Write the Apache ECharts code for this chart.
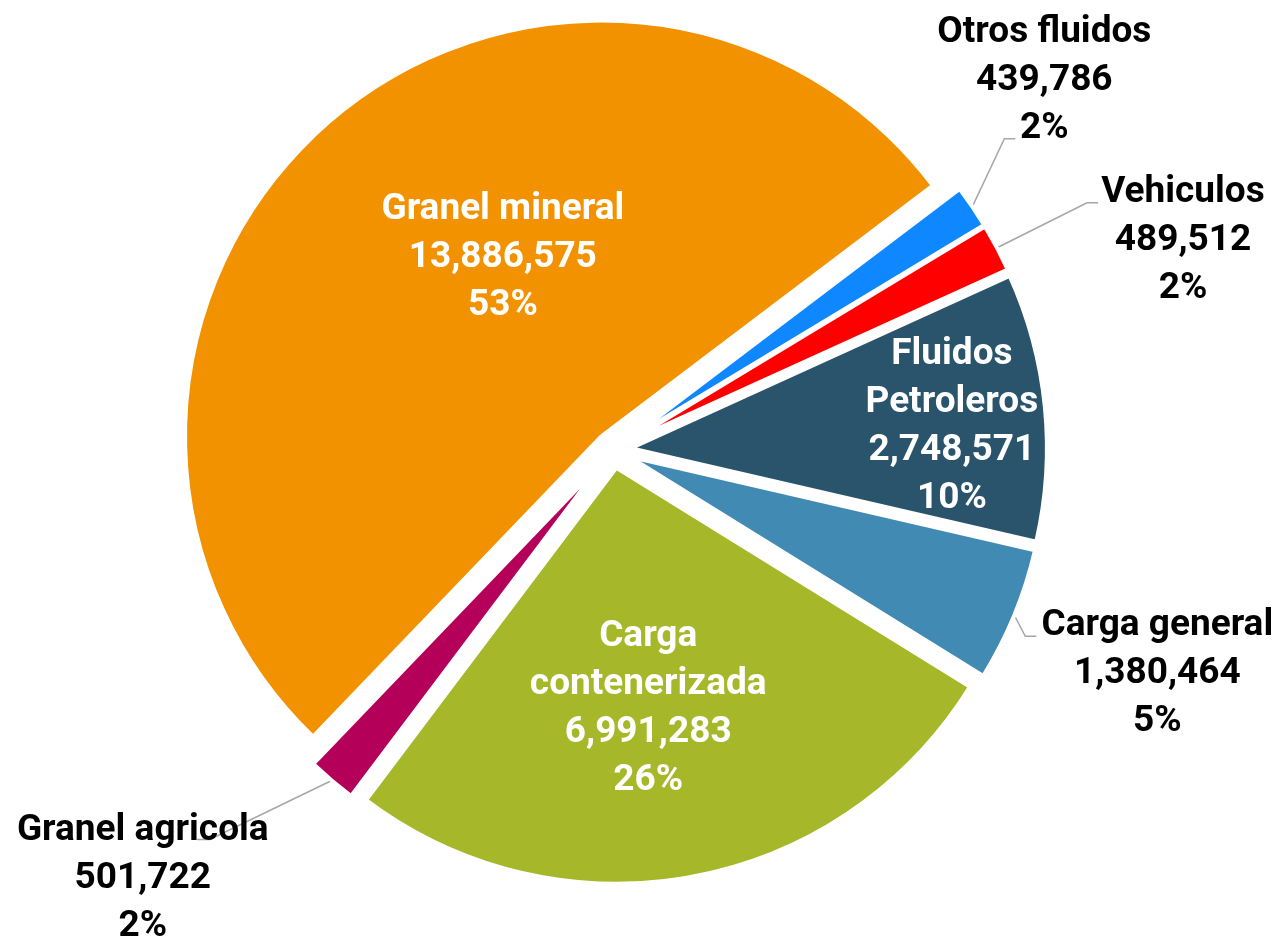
<!DOCTYPE html>
<html>
<head>
<meta charset="utf-8">
<script src="https://cdn.jsdelivr.net/npm/echarts@6/dist/echarts.min.js"></script>
<style>
  html, body { margin: 0; padding: 0; background: #fff; }
  #chart { width: 1281px; height: 943px; }
</style>
</head>
<body>
<div id="chart"></div>
<script>
// slices in clockwise order, starting from the gap above "Otros fluidos"
const CATEGORIES = ["Otros fluidos", "Vehiculos", "Fluidos Petroleros", "Carga general",
                    "Carga contenerizada", "Granel agricola", "Granel mineral"];
const VALUES = [439786, 489512, 2748571, 1380464, 6991283, 501722, 13886575];
// label text as wrapped in the original
const LABEL_TEXT = ["Otros fluidos", "Vehiculos", "Fluidos\nPetroleros", "Carga general",
                    "Carga\ncontenerizada", "Granel agricola", "Granel mineral"];

const COLORS = ["#0f87ff", "#ff0000", "#29546c", "#418ab3", "#a6b82a", "#b5005a", "#f39200"];
const INSIDE = [false, false, true, false, true, false, true];
// how far each label is moved from where the pie puts it (done with padding so the
// selected-slice shift still applies)
const LABEL_SHIFT = [[67, -126], [181, -7], [111, 0], [138, 59], [-7, 34], [-184, 98], [42, -21]];
// leader line bends, relative to the leader start on the arc
const LINE_BEND = [
  [[32, -68], [43, -68]],
  [[90, -45], [101, -45]],
  null,
  [[11, 21], [22, 21]],
  null,
  [[-122, 59], [-135, 59]],
  null,
];

const FONT = "Roboto, 'Liberation Sans', sans-serif";
const LINE_H = 48;

const chart = echarts.init(document.getElementById("chart"));

function labelText(p) {
  return LABEL_TEXT[p.dataIndex] + "\n" + p.value.toLocaleString("en-US") + "\n" + Math.round(p.percent) + "%";
}

// text is top-aligned on the anchor, so the top padding moves the block centre by sy
function shiftPadding(i) {
  const [sx, sy] = LABEL_SHIFT[i];
  const h = (LABEL_TEXT[i].split("\n").length + 2) * LINE_H;
  return [sy - h / 2, Math.max(0, -2 * sx), 0, Math.max(0, 2 * sx)];
}

function placeLabel(p) {
  const i = p.dataIndex;
  if (INSIDE[i]) return { align: "center", verticalAlign: "top" };
  const p0 = p.labelLinePoints[0];
  const b = LINE_BEND[i];
  return {
    align: "center",
    verticalAlign: "top",
    labelLinePoints: [
      [p0[0], p0[1]],
      [p0[0] + b[0][0], p0[1] + b[0][1]],
      [p0[0] + b[1][0], p0[1] + b[1][1]],
    ],
  };
}

chart.setOption({
  animation: false,
  backgroundColor: "#fff",
  series: [{
    type: "pie",
    center: [613, 450],
    radius: 416,
    startAngle: 37.1,
    clockwise: true,
    selectedMode: "multiple",
    selectedOffset: 18,
    avoidLabelOverlap: false,
    silent: true,
    emphasis: { disabled: true },
    itemStyle: { borderColor: "#fff", borderWidth: 4 },
    label: {
      fontFamily: FONT,
      fontSize: 37,
      fontWeight: "bold",
      lineHeight: LINE_H,
      formatter: labelText,
    },
    labelLine: { lineStyle: { color: "#a6a6a6", width: 1.5 } },
    labelLayout: placeLabel,
    data: CATEGORIES.map((name, i) => ({
      name,
      value: VALUES[i],
      selected: true,
      itemStyle: { color: COLORS[i] },
      label: {
        position: INSIDE[i] ? "inside" : "outside",
        color: INSIDE[i] ? "#fff" : "#000",
        padding: shiftPadding(i),
      },
      labelLine: { show: !INSIDE[i], length: 0, length2: 0 },
    })),
  }],
});
</script>
</body>
</html>
